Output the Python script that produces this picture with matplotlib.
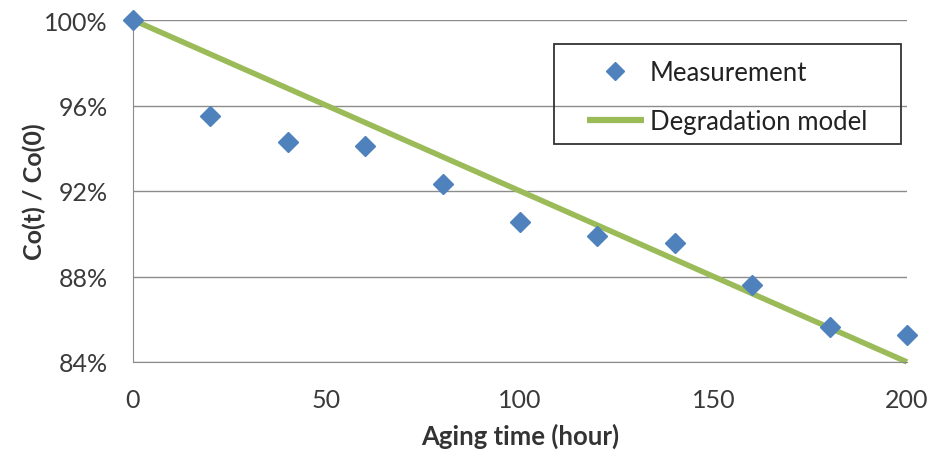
import matplotlib
matplotlib.use("Agg")
import matplotlib.pyplot as plt
from matplotlib.ticker import FuncFormatter
from matplotlib.lines import Line2D
from matplotlib.patches import Rectangle

plt.rcParams['font.family'] = ['Lato', 'DejaVu Sans']

hours = [0, 20, 40, 60, 80, 100, 120, 140, 160, 180, 200]
measurement = [100.0, 95.5, 94.3, 94.1, 92.35, 90.55, 89.9, 89.55, 87.6, 85.65, 85.25]
model_hours = [0, 200]
model_values = [100.0, 84.0]
y_ticks = [84, 88, 92, 96, 100]
x_ticks = [0, 50, 100, 150, 200]

W, H = 935, 452
fig = plt.figure(figsize=(W / 100, H / 100), dpi=100)
ax = fig.add_axes([133 / W, 1 - 363 / H, (907 - 133) / W, (363 - 21) / H])

green = '#9BBB59'
blue = '#4F81BD'

ax.plot(model_hours, model_values, color=green, lw=4, solid_capstyle='butt',
        zorder=2, clip_on=False)
ax.plot(hours, measurement, linestyle='none', marker='D', markersize=10.5,
        color=blue, zorder=3, clip_on=False)

ax.set_xlim(0, 200)
ax.set_ylim(84, 100)
ax.set_xticks(x_ticks)
ax.set_yticks(y_ticks)
ax.yaxis.set_major_formatter(FuncFormatter(lambda v, p: f"{v:.0f}%"))
ax.grid(axis='y', color='#8C8C8C', lw=1)
ax.set_axisbelow(True)
for s in ['top', 'right']:
    ax.spines[s].set_visible(False)
for s in ['left', 'bottom']:
    ax.spines[s].set_color('#8C8C8C')
ax.tick_params(length=0, labelsize=18, colors='#3a3a3a')
ax.tick_params(axis='x', pad=19)
ax.tick_params(axis='y', pad=18)

ax.set_xlabel('Aging time (hour)', fontsize=18.5, fontweight='bold', color='#333333')
ax.set_ylabel('Co(t) / Co(0)', fontsize=18, fontweight='bold', color='#333333')
ax.xaxis.set_label_coords(0.5, -0.178)
ax.yaxis.set_label_coords(-0.112, 0.5)

# legend
h_meas = Line2D([], [], linestyle='none', marker='D', markersize=9, color=blue)
h_model = Line2D([], [], color=green, lw=4.5, solid_capstyle='butt')
leg = fig.legend([h_meas, h_model], ['Measurement', 'Degradation model'],
                 loc='upper left', bbox_to_anchor=(587 / W, 1 - 61 / H),
                 bbox_transform=fig.transFigure, fontsize=18.5,
                 frameon=False, handlelength=2.2, handletextpad=0.25,
                 borderpad=0, labelspacing=0.93, borderaxespad=0)
for t in leg.get_texts():
    t.set_color('#222222')

fig.patches.append(Rectangle((554 / W, 1 - 145 / H), (901 - 554) / W, (145 - 45) / H,
                             transform=fig.transFigure, facecolor='none',
                             edgecolor='#333333', lw=1.3, zorder=5))

fig.savefig('out.png', dpi=100, facecolor='white')
